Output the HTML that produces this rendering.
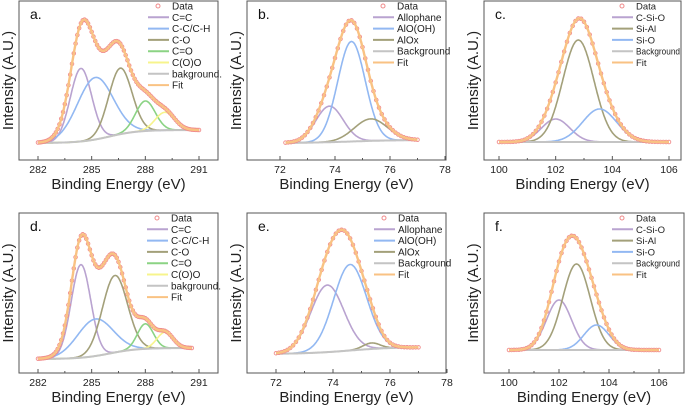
<!DOCTYPE html>
<html><head><meta charset="utf-8">
<style>
html,body{margin:0;padding:0;background:#fff;}
svg{display:block;font-family:"Liberation Sans",Arial,sans-serif;}
</style></head>
<body>
<svg id="fig" width="685" height="405" viewBox="0 0 685 405" xmlns="http://www.w3.org/2000/svg"></svg>
<script>
// ---- data arrays ----
const panelLetters = ["a.","b.","c.","d.","e.","f."];
const xTickLabels = [[282,285,288,291],[72,74,76,78],[100,102,104,106],[282,285,288,291],[72,74,76,78],[100,102,104,106]];
const xDomains = [[282,291],[72,78],[100,106],[282,291],[72,78],[100,106]];
const dataRanges = [[282,291],[72.2,77],[100,106],[282,290.6],[72,77],[100,106]];
const compNames = [
 ["C=C","C-C/C-H","C-O","C=O","C(O)O"],
 ["Allophane","AlO(OH)","AlOx"],
 ["C-Si-O","Si-Al","Si-O"],
 ["C=C","C-C/C-H","C-O","C=O","C(O)O"],
 ["Allophane","AlO(OH)","AlOx"],
 ["C-Si-O","Si-Al","Si-O"]];
const bgNames = ["bakground.","Background","Background","bakground.","Background","Background"];
const compCenters = [[284.4,285.2,286.6,288.0,289.1],[73.8,74.6,75.3],[102.0,102.8,103.55],[284.4,285.2,286.3,288.0,289.1],[73.8,74.6,75.35],[102.0,102.7,103.5]];
const compHeights = [[73,62,66,30,18],[36,100,22],[23,102,33],[93,37,77,25,16],[67,86,6],[50,86,25]];
const compWidths  = [[0.6,1.0,0.65,0.55,0.55],[0.5,0.5,0.6],[0.5,0.55,0.6],[0.55,1.0,0.7,0.45,0.45],[0.58,0.58,0.3],[0.5,0.55,0.5]];
const bgLeft  = [17,17,18,14,19,23];
const bgRight = [30,20,18,25,26,23];
const bgMid   = [286,74.6,102.8,286,74.6,102.6];
// ---- styles ----
const cCol = ["#b9a3d0","#92b8f2","#a3a07a","#8bd384","#f7f48c"];
const siCol = ["#b9a3d0","#a3a07a","#92b8f2"];
const panels = [
 {x0:19,x1:218,top:1,bot:160,t0:38,t1:199,lx:148,ly:6,colors:cCol,fs:10},
 {x0:247,x1:446,top:1,bot:160,t0:280,t1:445,lx:373,ly:6,colors:cCol,fs:10},
 {x0:484,x1:681,top:1,bot:160,t0:499,t1:669,lx:612,ly:6,colors:siCol,fs:9.5},
 {x0:19,x1:218,top:213,bot:373,t0:38,t1:199,lx:147,ly:218,colors:cCol,fs:10},
 {x0:247,x1:446,top:213,bot:373,t0:276,t1:447,lx:374,ly:218,colors:cCol,fs:10},
 {x0:484,x1:684,top:213,bot:373,t0:509,t1:659,lx:612,ly:218,colors:siCol,fs:9.5}];
const NS="http://www.w3.org/2000/svg";
const svg=document.getElementById('fig');
function mk(tag,attrs,parent){const e=document.createElementNS(NS,tag);for(const k in attrs)e.setAttribute(k,attrs[k]);(parent||svg).appendChild(e);return e;}
function gauss(x,c,h,w){return h*Math.exp(-(x-c)*(x-c)/(2*w*w));}
panels.forEach((P,i)=>{
 const g=mk('g',{});
 
 
 const T0=xTickLabels[i][0],T1=xTickLabels[i][xTickLabels[i].length-1];
 const sx=v=>P.t0+(v-T0)*(P.t1-P.t0)/(T1-T0);
 const sy=v=>P.bot-v;
 const bg=x=>bgLeft[i]+(bgRight[i]-bgLeft[i])/(1+Math.exp(-(x-bgMid[i])/0.8));
 const comp=(k,x)=>bg(x)+gauss(x,compCenters[i][k],compHeights[i][k],compWidths[i][k]);
 const fit=x=>{let s=bg(x);compCenters[i].forEach((c,k)=>s+=gauss(x,c,compHeights[i][k],compWidths[i][k]));return s;};
 const [r0,r1]=dataRanges[i];
 const xs=[];for(let x=r0;x<=r1+1e-9;x+=0.02)xs.push(x);
 const path=f=>xs.map((x,j)=>(j?'L':'M')+sx(x).toFixed(1)+','+sy(f(x)).toFixed(1)).join('');
 const box=mk('rect',{x:P.x0,y:P.top,width:P.x1-P.x0,height:P.bot-P.top,fill:'none',stroke:'#555','stroke-width':1},g);
 
 const tl=xTickLabels[i];
 for(let t=0;t<tl.length;t++){
  const X=sx(tl[t]);
  mk('line',{x1:X,y1:P.bot,x2:X,y2:P.bot-4,stroke:'#555'},g);
  if(t<tl.length-1){const m=sx((tl[t]+tl[t+1])/2);mk('line',{x1:m,y1:P.bot,x2:m,y2:P.bot-2,stroke:'#555'},g);}
  const lab=mk('text',{x:X,y:P.bot+13,'font-size':10.5,'text-anchor':'middle',fill:'#222'},g);
  lab.textContent=tl[t];
  
 }
 const xt=mk('text',{x:(P.x0+P.x1)/2,y:P.bot+29,'font-size':15,'text-anchor':'middle',fill:'#222'},g);
 xt.textContent='Binding Energy (eV)';
 const yx=P.x0-6, yy=(P.top+P.bot)/2;
 const yt=mk('text',{x:yx,y:yy,'font-size':15,'text-anchor':'middle',fill:'#222',transform:`rotate(-90 ${yx} ${yy})`},g);
 yt.textContent='Intensity (A.U.)';
 const pl=mk('text',{x:P.x0+11,y:P.top+18,'font-size':14,fill:'#111'},g);
 pl.textContent=panelLetters[i];
 compCenters[i].forEach((c,k)=>{
  const p=mk('path',{d:path(x=>comp(k,x)),fill:'none',stroke:P.colors[k],'stroke-width':1.6},g);
  
  
 });
 const bgp=mk('path',{d:path(bg),fill:'none',stroke:'#c4c4c4','stroke-width':2},g);
 
 for(let x=r0;x<=r1+1e-9;x+=0.1){
  const pt=mk('circle',{cx:sx(x),cy:sy(fit(x)),r:1.8,fill:'none',stroke:'#f08a8a','stroke-width':0.9},g);
  
 }
 const fp=mk('path',{d:path(fit),fill:'none',stroke:'#f9c283','stroke-width':2.4},g);
 
 const names=['Data'].concat(compNames[i],[bgNames[i],'Fit']);
 const cols=[null].concat(P.colors.slice(0,compNames[i].length),['#c4c4c4','#f9c283']);
 names.forEach((n,k)=>{
  const y=P.ly+k*11.3;
  const le=mk('g',{},g);
  
  if(k===0)mk('circle',{cx:P.lx+10,cy:y,r:2,fill:'none',stroke:'#f08a8a','stroke-width':1},le);
  else mk('line',{x1:P.lx,y1:y,x2:P.lx+21,y2:y,stroke:cols[k],'stroke-width':2},le);
  const ta={x:P.lx+24,y:y+3.5,'font-size':P.fs,fill:'#222'};
  if(n==='Background'&&P.fs<10){ta.textLength=44;ta.lengthAdjust='spacingAndGlyphs';}
  const t=mk('text',ta,le);t.textContent=n;
 });
});
</script>
</body></html>
